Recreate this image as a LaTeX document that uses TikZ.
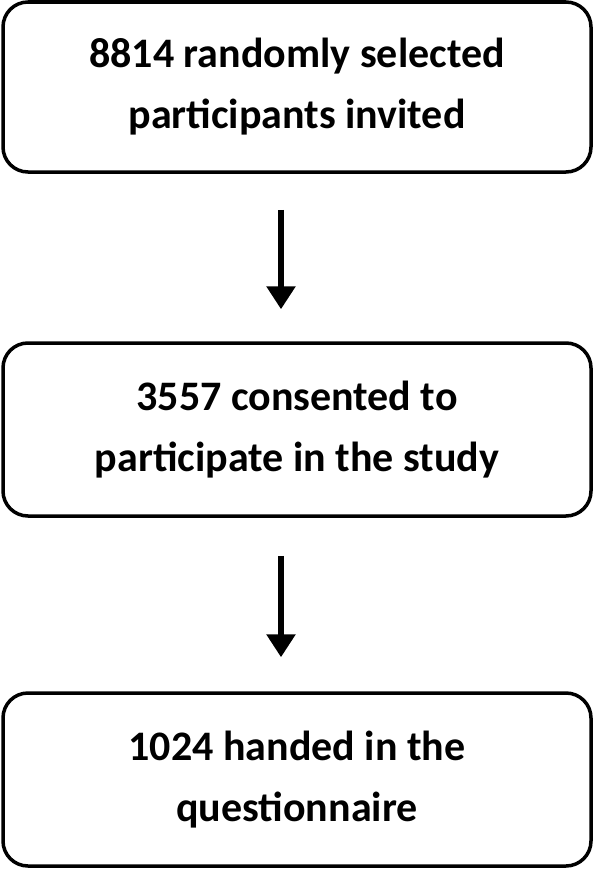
\documentclass[tikz,border=0pt]{standalone}
\usepackage{fontspec}
\setmainfont{Carlito}
\usetikzlibrary{arrows.meta,positioning}

\tikzset{
  flowbox/.style={draw, line width=3.5pt, rounded corners=25pt, minimum width=588pt,
    minimum height=170pt, align=center, font=\fontsize{42}{61}\selectfont\bfseries},
  flowarrow/.style={line width=6pt, -{Triangle[length=23pt,width=28pt]}}
}

\begin{document}
\begin{tikzpicture}[x=1pt,y=-1pt]
    \useasboundingbox (0,0) rectangle (594,870);

    \node[flowbox] (invited) at (297,87) {8814 randomly selected\\participants invited};
    \node[flowbox, minimum height=173pt] (consent) at (297,429.5) {3557 consented to\\participate in the study};
    \node[flowbox, minimum height=173pt] (returned) at (297,779.5) {1024 handed in the\\questionnaire};

    \draw[flowarrow, shorten <=36pt, shorten >=32pt] ([xshift=-16pt]invited.south) -- ([xshift=-16pt]consent.north);
    \draw[flowarrow, shorten <=38pt, shorten >=34pt] ([xshift=-16pt]consent.south) -- ([xshift=-16pt]returned.north);
\end{tikzpicture}
\end{document}
